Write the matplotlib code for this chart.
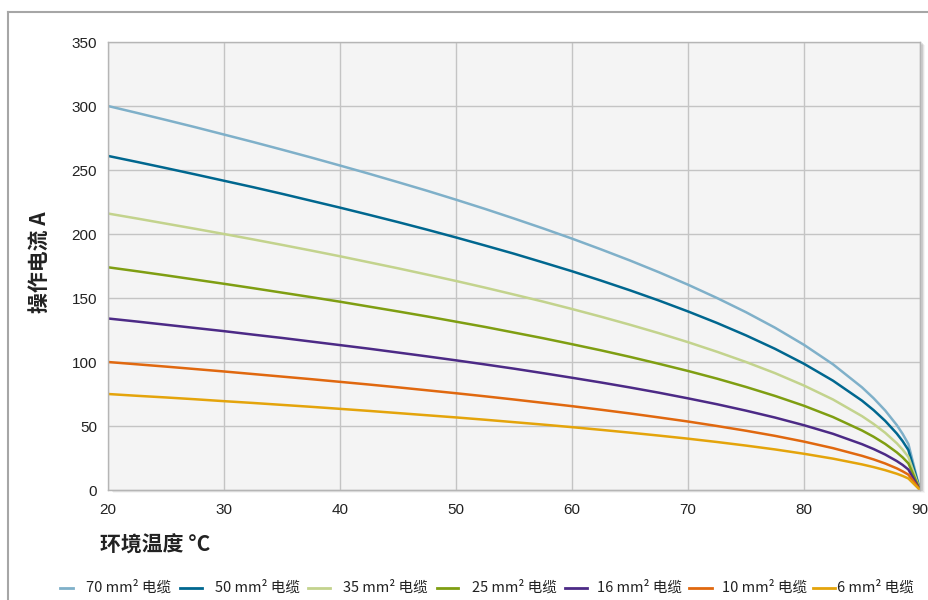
import matplotlib
matplotlib.use("Agg")
import matplotlib.pyplot as plt
from matplotlib.lines import Line2D
from matplotlib.patches import Rectangle

plt.rcParams['font.family'] = ['Liberation Sans', 'Noto Sans CJK SC', 'DejaVu Sans']

temps = [20, 22.5, 25, 27.5, 30, 32.5, 35, 37.5, 40, 42.5, 45, 47.5, 50, 52.5, 55, 57.5,
         60, 62.5, 65, 67.5, 70, 72.5, 75, 77.5, 80, 82.5, 85, 86, 87, 88, 88.5, 89, 90]
series_labels = ["70 mm² 电缆", "50 mm² 电缆", "35 mm² 电缆", "25 mm² 电缆",
                 "16 mm² 电缆", "10 mm² 电缆", "6 mm² 电缆"]
cable70 = [300, 294.6, 289.1, 283.5, 277.7, 271.9, 265.9, 259.8, 253.5, 247.1, 240.5, 233.8,
           226.8, 219.6, 212.1, 204.4, 196.4, 188.0, 179.3, 170.1, 160.4, 150.0, 138.9, 126.8,
           113.4, 98.2, 80.2, 71.7, 62.1, 50.7, 43.9, 35.9, 0]
cable50 = [261, 256.3, 251.5, 246.6, 241.6, 236.6, 231.4, 226.0, 220.6, 215.0, 209.3, 203.4,
           197.3, 191.0, 184.6, 177.8, 170.9, 163.6, 156.0, 148.0, 139.5, 130.5, 120.8, 110.3,
           98.6, 85.4, 69.8, 62.4, 54.0, 44.1, 38.2, 31.2, 0]
cable35 = [216, 212.1, 208.1, 204.1, 200.0, 195.8, 191.5, 187.1, 182.6, 177.9, 173.2, 168.3,
           163.3, 158.1, 152.7, 147.2, 141.4, 135.4, 129.1, 122.5, 115.5, 108.0, 100.0, 91.3,
           81.6, 70.7, 57.7, 51.6, 44.7, 36.5, 31.6, 25.8, 0]
cable25 = [174, 170.9, 167.7, 164.4, 161.1, 157.7, 154.2, 150.7, 147.1, 143.3, 139.5, 135.6,
           131.5, 127.4, 123.0, 118.6, 113.9, 109.1, 104.0, 98.6, 93.0, 87.0, 80.5, 73.5,
           65.8, 57.0, 46.5, 41.6, 36.0, 29.4, 25.5, 20.8, 0]
cable16 = [134, 131.6, 129.1, 126.6, 124.1, 121.4, 118.8, 116.0, 113.2, 110.4, 107.4, 104.4,
           101.3, 98.1, 94.8, 91.3, 87.7, 84.0, 80.1, 76.0, 71.6, 67.0, 62.0, 56.6,
           50.6, 43.9, 35.8, 32.0, 27.7, 22.6, 19.6, 16.0, 0]
cable10 = [100, 98.2, 96.4, 94.5, 92.6, 90.6, 88.6, 86.6, 84.5, 82.4, 80.2, 77.9,
           75.6, 73.2, 70.7, 68.1, 65.5, 62.7, 59.8, 56.7, 53.5, 50.0, 46.3, 42.3,
           37.8, 32.7, 26.7, 23.9, 20.7, 16.9, 14.6, 12.0, 0]
cable6 = [75, 73.6, 72.3, 70.9, 69.4, 68.0, 66.5, 65.0, 63.4, 61.8, 60.1, 58.4,
          56.7, 54.9, 53.0, 51.1, 49.1, 47.0, 44.8, 42.5, 40.1, 37.5, 34.7, 31.7,
          28.3, 24.5, 20.0, 17.9, 15.5, 12.7, 11.0, 9.0, 0]
series = [cable70, cable50, cable35, cable25, cable16, cable10, cable6]
colors = ["#7fb0c9", "#00678f", "#c3d38d", "#7f9e12", "#4c2a86", "#e0680f", "#e4a40b"]
xticks = [20, 30, 40, 50, 60, 70, 80, 90]
yticks = [0, 50, 100, 150, 200, 250, 300, 350]

W, H = 929, 600
fig = plt.figure(figsize=(W / 100, H / 100), dpi=100)

# outer frame
fig.add_artist(Line2D([8 / W, 8 / W], [0, 1 - 12 / H], transform=fig.transFigure,
                      color="#a6a6a6", lw=1.5))
fig.add_artist(Line2D([8 / W, 1], [1 - 12 / H, 1 - 12 / H], transform=fig.transFigure,
                      color="#a6a6a6", lw=1.5))

L, R, T, B = 108, 920, 42, 490
ax = fig.add_axes([L / W, 1 - B / H, (R - L) / W, (B - T) / H])

# shadow
for i, a in enumerate([0.10, 0.07, 0.04]):
    off = i + 1
    fig.add_artist(Rectangle(((L + 2 + off) / W, 1 - (B + off) / H), (R - L) / W, (B - T) / H,
                             transform=fig.transFigure, facecolor="#000000", alpha=a,
                             edgecolor="none", zorder=-1))

ax.set_facecolor("#f4f4f4")
ax.set_zorder(1)
for lab, vals, c in zip(series_labels, series, colors):
    ax.plot(temps, vals, color=c, lw=1.8, label=lab, solid_capstyle="round",
            solid_joinstyle="round")

ax.set_xlim(20, 90)
ax.set_ylim(0, 350)
ax.set_xticks(xticks)
ax.set_yticks(yticks)
ax.grid(True, color="#c4c4c4", lw=1)
ax.set_axisbelow(True)
ax.tick_params(length=0, labelsize=11, colors="#222222")
ax.tick_params(axis="y", pad=8)
ax.tick_params(axis="x", pad=9)
for s in ax.spines.values():
    s.set_color("#b5b5b5")
    s.set_linewidth(1)

fig.text(40 / W, 1 - 262 / H, "操作电流 A", rotation=90, ha="center", va="center",
         fontsize=15, fontweight="bold", family=["Noto Sans CJK SC", "DejaVu Sans"], color="#222222")
fig.text(100 / W, 1 - 545 / H, "环境温度 °C", ha="left", va="center",
         fontsize=15, fontweight="bold", family=["Noto Sans CJK SC", "DejaVu Sans"], color="#222222")

# legend
handle_x = [(60, 73), (180, 202), (308, 330), (437, 458), (565, 587), (689, 712), (813, 835)]
text_x = [86, 215, 343, 472, 597, 722, 837]
ly = 1 - 588 / H
for (x0, x1), tx, lab, c in zip(handle_x, text_x, series_labels, colors):
    fig.add_artist(Line2D([x0 / W, x1 / W], [ly, ly], transform=fig.transFigure, color=c, lw=2))
    fig.text(tx / W, ly, lab, ha="left", va="center", fontsize=10.5,
             family=["Noto Sans CJK SC", "DejaVu Sans"], color="#222222")

fig.savefig("out.png", dpi=100, facecolor="white")
